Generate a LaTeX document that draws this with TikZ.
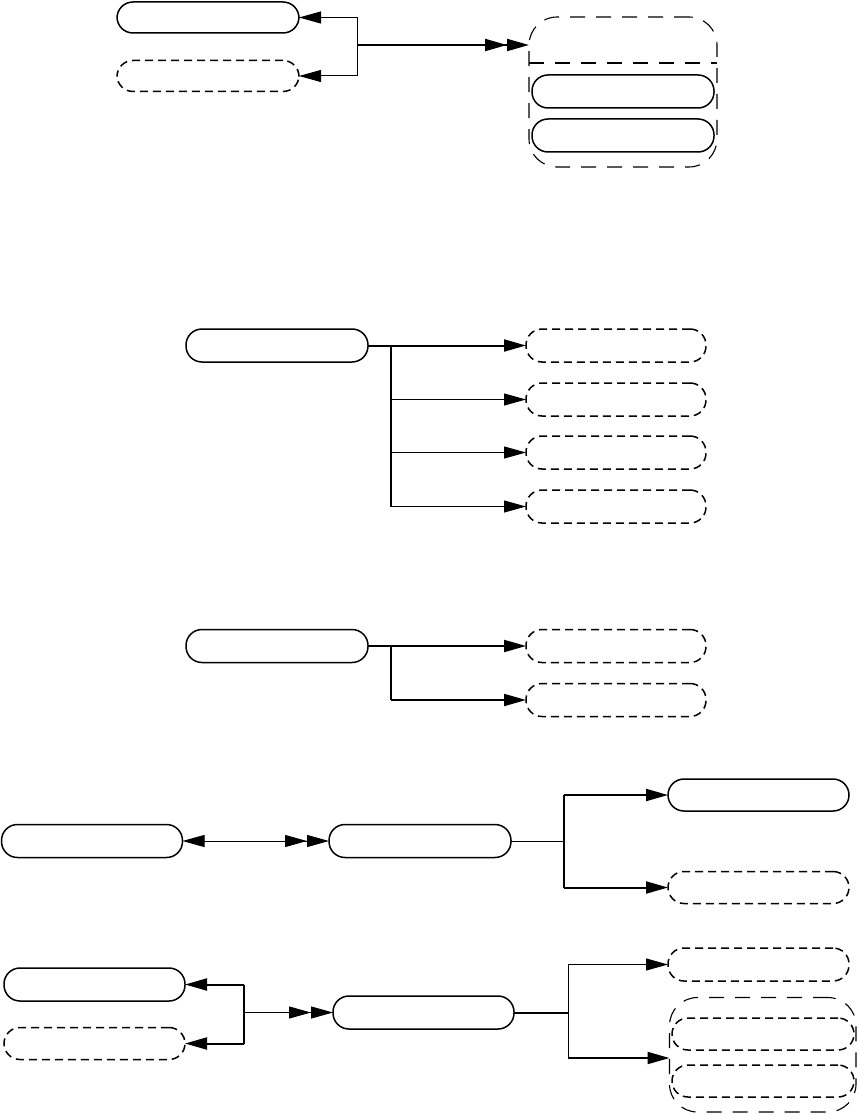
\documentclass[tikz,border=0pt]{standalone}
\usetikzlibrary{arrows.meta}
\begin{document}
\begin{tikzpicture}[x=1pt,y=-1pt,
  pill/.style={draw, line width=1.5pt, rounded corners=16pt, minimum width=182pt, minimum height=33pt, inner sep=0pt, outer sep=0pt},
  dpill/.style={pill, dash pattern=on 8pt off 5pt},
  grp/.style={draw, line width=1.1pt, rounded corners=28pt, dash pattern=on 15pt off 11pt, inner sep=0pt, outer sep=0pt},
  grpline/.style={line width=1.1pt, dash pattern=on 15pt off 11pt},
  wire/.style={line width=1pt},
  wireb/.style={line width=2pt},
  arr/.style={-{Triangle[length=22pt,width=12pt]}},
  darr/.style={-{Triangle[length=22pt,width=12pt,sep=0pt]Triangle[length=22pt,width=12pt]}},
  larr/.style={{Triangle[length=22pt,width=12pt]}-{Triangle[length=22pt,width=12pt,sep=0pt]Triangle[length=22pt,width=12pt]}}
]
\useasboundingbox (0,0) rectangle (857,1115);

% ---------- section 1 ----------
\node[pill, minimum height=31pt] (A) at (208,17.5) {};
\node[dpill, minimum height=31pt] (B) at (208,76) {};
\coordinate (jA) at (357,17.5);
\coordinate (jB) at (357,76);
\coordinate (jC) at (357,45);
\draw[wire] (jA) -- (jB);
\draw[wire, arr] (jA) -- (A.east);
\draw[wire, arr] (jB) -- (B.east);
\node[grp, minimum width=188pt, minimum height=150pt] (C) at (623,92) {};
\coordinate (sepC) at (0,63);
\draw[grpline] (C.west |- sepC) -- (C.east |- sepC);
\draw[wireb, darr] (jC) -- (C.west |- jC);
\node[pill] (C1) at (623,91.5) {};
\node[pill] (C2) at (623,135.5) {};

% ---------- section 2 ----------
\node[pill] (D) at (277,345.5) {};
\node[dpill, minimum width=180pt] (P1) at (616,345.5) {};
\node[dpill, minimum width=180pt] (P2) at (616,399.5) {};
\node[dpill, minimum width=180pt] (P3) at (616,452.5) {};
\node[dpill, minimum width=180pt] (P4) at (616,506.5) {};
\coordinate (k1) at (390.7,345.5);
\draw[wireb] (k1) -- (k1 |- P4.west);
\draw[wireb, arr] (D.east) -- (P1.west);
\draw[wire, arr] (k1 |- P2.west) -- (P2.west);
\draw[wire, arr] (k1 |- P3.west) -- (P3.west);
\draw[wire, arr] (k1 |- P4.west) -- (P4.west);

% ---------- section 3 ----------
\node[pill] (E) at (277,646) {};
\node[dpill, minimum width=180pt] (Q1) at (616,646) {};
\node[dpill, minimum width=180pt] (Q2) at (616,700) {};
\coordinate (k2) at (390.7,646);
\draw[wireb] (k2) -- (k2 |- Q2.west);
\draw[wireb, arr] (E.east) -- (Q1.west);
\draw[wireb, arr] (k2 |- Q2.west) -- (Q2.west);

% ---------- section 4 ----------
\node[pill, minimum width=181pt] (F) at (92,841) {};
\node[pill] (G) at (420,841) {};
\draw[wire, larr] (F.east) -- (G.west);
\node[pill, minimum width=181pt, minimum height=32pt] (H) at (758.5,795) {};
\node[dpill, minimum width=181pt, minimum height=32pt] (I) at (758.5,887.5) {};
\coordinate (m) at (564.3,841);
\draw[wire] (G.east) -- (m);
\draw[wireb] (m |- H.west) -- (m |- I.west);
\draw[wireb, arr] (m |- H.west) -- (H.west);
\draw[wireb, arr] (m |- I.west) -- (I.west);

% ---------- section 5 ----------
\node[pill, minimum width=181pt] (J) at (94.5,984.5) {};
\node[dpill, minimum width=181pt, minimum height=32pt] (K) at (94.5,1043.5) {};
\coordinate (n) at (244,1012.5);
\draw[wireb] (n |- J.east) -- (n |- K.east);
\draw[wireb, arr] (n |- J.east) -- (J.east);
\draw[wireb, arr] (n |- K.east) -- (K.east);
\node[pill, minimum width=181pt] (L) at (423.5,1012.5) {};
\draw[wire, darr] (n) -- (L.west);
\coordinate (o) at (568.3,1012.5);
\draw[wireb] (L.east) -- (o);
\node[dpill, minimum width=181pt] (M) at (758.5,964.5) {};
\node[grp, minimum width=186.5pt, minimum height=114.5pt] (N) at (762.75,1054.75) {};
\node[dpill, minimum height=32pt] (N1) at (763,1034) {};
\node[dpill, minimum height=32pt] (N2) at (763,1081) {};
\coordinate (oN) at (568.3,1058);
\draw[wire] (o |- M.west) -- (oN);
\draw[wire, arr] (o |- M.west) -- (M.west);
\draw[wireb, arr] (oN) -- (N.west |- oN);
\end{tikzpicture}
\end{document}
